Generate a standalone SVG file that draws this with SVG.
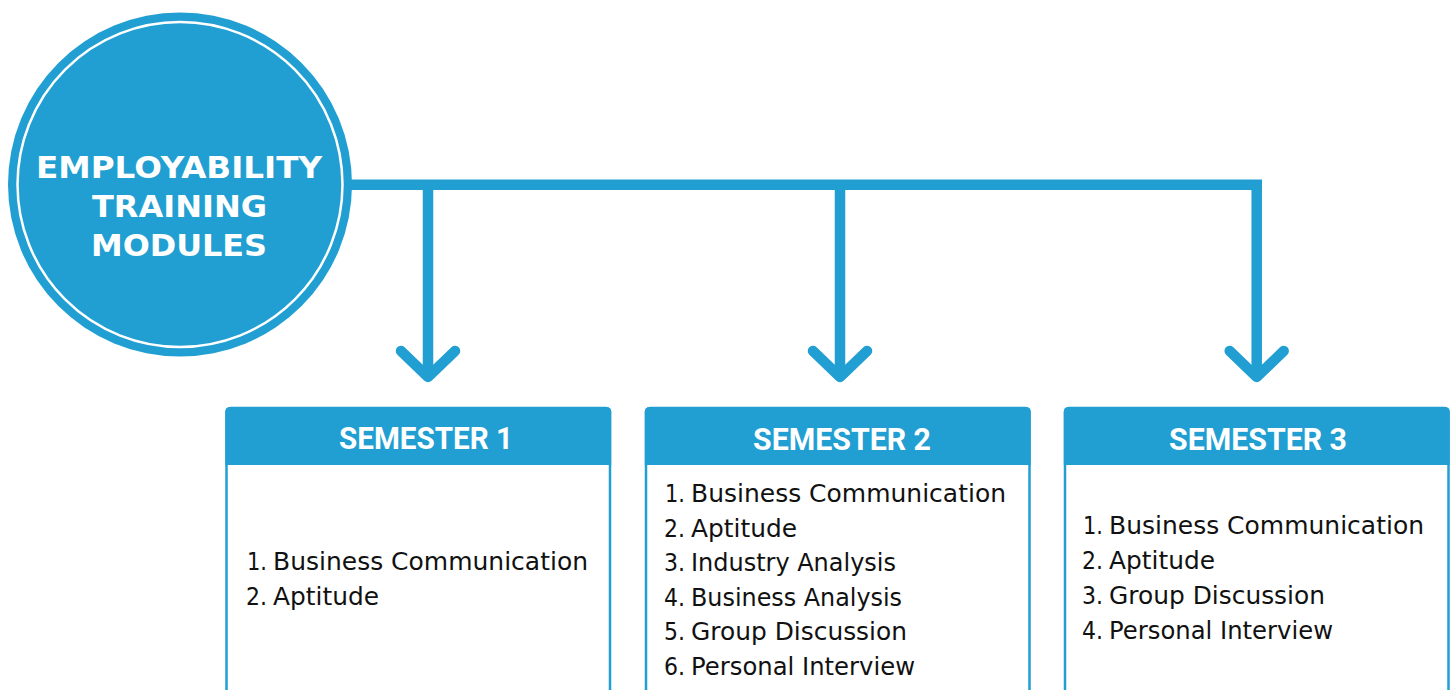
<svg xmlns="http://www.w3.org/2000/svg" width="1456" height="690" viewBox="0 0 1456 690">
<style>
.blue{fill:#219fd2}
.conn{stroke:#219fd2;stroke-width:10.5;fill:none}
.head{stroke:#219fd2;stroke-width:10.5;fill:none;stroke-linecap:round;stroke-linejoin:round}
.title{font-family:"DejaVu Sans","Liberation Sans",sans-serif;font-weight:bold;font-size:31px;fill:#fff}
.sem{font-family:Roboto,"Liberation Sans",sans-serif;font-weight:bold;font-size:31px;fill:#fff}
.item{font-family:"DejaVu Sans","Liberation Sans",sans-serif;font-size:25px;fill:#111}
.box{fill:#fff;stroke:#219fd2;stroke-width:2.5}
</style>
<rect width="1456" height="690" fill="#fff"/>
<g id="connectors">
<path class="conn" d="M350 184.7H1262M428 190V372M840 190V372M1256.7 179.5V372"/>
<path class="head" d="M401 351L428 377L455 351"/>
<path class="head" d="M813 351L840 377L867 351"/>
<path class="head" d="M1229.7 351L1256.7 377L1283.7 351"/>
</g>
<g id="root">
<circle cx="180" cy="184.5" r="172" class="blue"/>
<circle cx="180" cy="184.5" r="162.5" fill="none" stroke="#fff" stroke-width="2.5"/>
<text class="title" x="36" y="178" textLength="286" lengthAdjust="spacingAndGlyphs">EMPLOYABILITY</text>
<text class="title" x="92" y="217" textLength="175" lengthAdjust="spacingAndGlyphs">TRAINING</text>
<text class="title" x="91" y="256" textLength="176" lengthAdjust="spacingAndGlyphs">MODULES</text>
</g>
<g id="semester1">
<rect class="box" x="226.5" y="408" width="383.5" height="300" rx="4"/>
<path class="blue" d="M225.3 411.5a4.5 4.5 0 0 1 4.5 -4.5H606.7a4.5 4.5 0 0 1 4.5 4.5V465H225.3Z"/>
<text class="sem" x="339" y="449" textLength="174" lengthAdjust="spacingAndGlyphs">SEMESTER 1</text>
<text class="item" x="247" y="570" textLength="20" lengthAdjust="spacingAndGlyphs">1.</text><text class="item" x="273" y="570" textLength="315" lengthAdjust="spacingAndGlyphs">Business Communication</text>
<text class="item" x="246" y="605" textLength="21" lengthAdjust="spacingAndGlyphs">2.</text><text class="item" x="273" y="605" textLength="106" lengthAdjust="spacingAndGlyphs">Aptitude</text>
</g>
<g id="semester2">
<rect class="box" x="646" y="408" width="383.5" height="300" rx="4"/>
<path class="blue" d="M644.8 411.5a4.5 4.5 0 0 1 4.5 -4.5H1026.2a4.5 4.5 0 0 1 4.5 4.5V465H644.8Z"/>
<text class="sem" x="753" y="450" textLength="178" lengthAdjust="spacingAndGlyphs">SEMESTER 2</text>
<text class="item" x="665" y="502" textLength="20" lengthAdjust="spacingAndGlyphs">1.</text><text class="item" x="691" y="502" textLength="315" lengthAdjust="spacingAndGlyphs">Business Communication</text>
<text class="item" x="664" y="537" textLength="21" lengthAdjust="spacingAndGlyphs">2.</text><text class="item" x="691" y="537" textLength="106" lengthAdjust="spacingAndGlyphs">Aptitude</text>
<text class="item" x="664" y="571" textLength="21" lengthAdjust="spacingAndGlyphs">3.</text><text class="item" x="691" y="571" textLength="205" lengthAdjust="spacingAndGlyphs">Industry Analysis</text>
<text class="item" x="664" y="606" textLength="21" lengthAdjust="spacingAndGlyphs">4.</text><text class="item" x="691" y="606" textLength="211" lengthAdjust="spacingAndGlyphs">Business Analysis</text>
<text class="item" x="664" y="640" textLength="21" lengthAdjust="spacingAndGlyphs">5.</text><text class="item" x="691" y="640" textLength="216" lengthAdjust="spacingAndGlyphs">Group Discussion</text>
<text class="item" x="664" y="675" textLength="21" lengthAdjust="spacingAndGlyphs">6.</text><text class="item" x="691" y="675" textLength="224" lengthAdjust="spacingAndGlyphs">Personal Interview</text>
</g>
<g id="semester3">
<rect class="box" x="1065" y="408" width="383.5" height="300" rx="4"/>
<path class="blue" d="M1063.8 411.5a4.5 4.5 0 0 1 4.5 -4.5H1445.2a4.5 4.5 0 0 1 4.5 4.5V465H1063.8Z"/>
<text class="sem" x="1169" y="450" textLength="178" lengthAdjust="spacingAndGlyphs">SEMESTER 3</text>
<text class="item" x="1083" y="534" textLength="20" lengthAdjust="spacingAndGlyphs">1.</text><text class="item" x="1109" y="534" textLength="315" lengthAdjust="spacingAndGlyphs">Business Communication</text>
<text class="item" x="1082" y="569" textLength="21" lengthAdjust="spacingAndGlyphs">2.</text><text class="item" x="1109" y="569" textLength="106" lengthAdjust="spacingAndGlyphs">Aptitude</text>
<text class="item" x="1082" y="604" textLength="21" lengthAdjust="spacingAndGlyphs">3.</text><text class="item" x="1109" y="604" textLength="216" lengthAdjust="spacingAndGlyphs">Group Discussion</text>
<text class="item" x="1082" y="639" textLength="21" lengthAdjust="spacingAndGlyphs">4.</text><text class="item" x="1109" y="639" textLength="224" lengthAdjust="spacingAndGlyphs">Personal Interview</text>
</g>
</svg>
